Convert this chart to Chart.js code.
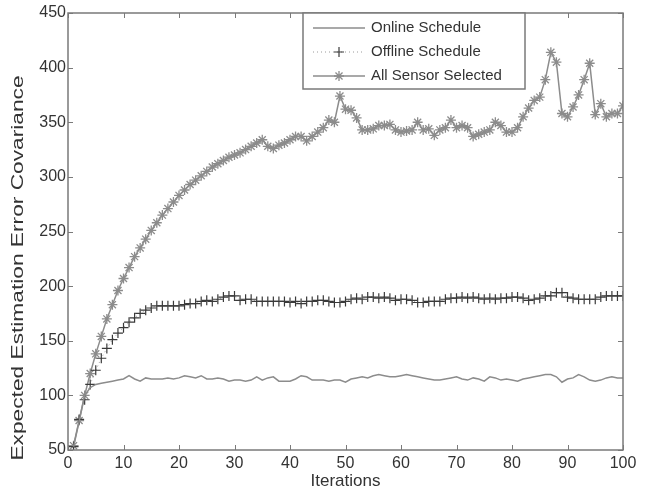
<!DOCTYPE html>
<html>
<head>
<meta charset="utf-8">
<script src="https://cdn.jsdelivr.net/npm/chart.js@4.4.1/dist/chart.umd.min.js"></script>
<style>
  html, body { margin: 0; padding: 0; background: #fff; }
  #wrap { width: 655px; height: 492px; }
</style>
</head>
<body>
<div id="wrap"><canvas id="chart" width="655" height="492"></canvas></div>
<script>
// iterations 1..100
const iterations = [];
for (let i = 1; i <= 100; i++) iterations.push(i);

// online schedule (solid line, no markers)
const onlineValues = [
  53, 76, 100, 107, 110, 111, 112, 113, 114, 115,
  118, 115, 113, 116, 115, 115, 115, 116, 115, 116,
  118, 117, 116, 118, 115, 115, 116, 115, 113, 114,
  114, 113, 114, 117, 114, 116, 117, 113, 113, 113,
  115, 118, 117, 114, 114, 114, 113, 114, 114, 112,
  115, 116, 117, 116, 118, 119, 118, 117, 117, 118,
  119, 118, 117, 116, 115, 114, 114, 115, 116, 117,
  115, 114, 116, 115, 113, 117, 116, 114, 115, 114,
  113, 115, 116, 117, 118, 119, 119, 117, 112, 115,
  116, 119, 117, 114, 113, 114, 116, 117, 116, 116
];

// offline schedule (dotted line, + markers)
const offlineValues = [
  53, 78, 96, 110, 123, 134, 143, 151, 157, 162,
  167, 171, 175, 178, 180, 182, 182, 182, 182, 182,
  183, 184, 184, 186, 187, 186, 188, 190, 191, 191,
  187, 188, 188, 186, 186, 186, 186, 186, 186, 185,
  186, 184, 186, 186, 187, 187, 186, 185, 185, 186,
  188, 189, 188, 190, 190, 189, 190, 189, 187, 188,
  188, 187, 185, 185, 186, 186, 186, 188, 189, 189,
  190, 189, 190, 189, 188, 189, 188, 189, 189, 190,
  190, 189, 187, 188, 189, 191, 191, 194, 194, 190,
  189, 188, 188, 188, 188, 190, 191, 191, 191, 191
];

// all sensor selected (solid line, * markers)
const allSensorValues = [
  54, 77, 100, 120, 138, 154, 170, 183, 196, 207,
  217, 227, 235, 243, 251, 258, 265, 271, 277, 283,
  288, 293, 297, 301, 305, 309, 312, 315, 318, 320,
  322, 325, 328, 331, 334, 328, 326, 329, 331, 334,
  337, 337, 333, 337, 341, 345, 352, 350, 374, 362,
  361, 354, 343, 343, 344, 347, 347, 348, 343, 341,
  342, 343, 350, 343, 344, 338, 343, 345, 352, 345,
  347, 345, 337, 339, 341, 343, 350, 347, 341, 341,
  345, 355, 363, 370, 373, 389, 414, 405, 358, 355,
  364, 375, 389, 404, 357, 367, 355, 358, 358, 365
];

const xTicks = [0, 10, 20, 30, 40, 50, 60, 70, 80, 90, 100];
const yTicks = [50, 100, 150, 200, 250, 300, 350, 400, 450];

const seriesLabels = ["Online Schedule", "Offline Schedule", "All Sensor Selected"];
const yTitle = "Expected Estimation Error Covariance";

const toPoints = (vals) => vals.map((v, i) => ({ x: iterations[i], y: v }));

const axisColor = "#7a7a7a";
const textColor = "#333333";
const fontFamily = "'Liberation Sans', Arial, sans-serif";

// inward ticks on all four sides + box
const boxTicks = {
  id: "boxTicks",
  afterDatasetsDraw(chart) {
    const { ctx, chartArea: a, scales } = chart;
    ctx.save();
    ctx.strokeStyle = axisColor;
    ctx.lineWidth = 1;
    ctx.beginPath();
    xTicks.forEach((t) => {
      const px = Math.round(scales.x.getPixelForValue(t)) + 0.5;
      ctx.moveTo(px, a.bottom);
      ctx.lineTo(px, a.bottom - 5);
      ctx.moveTo(px, a.top);
      ctx.lineTo(px, a.top + 5);
    });
    yTicks.forEach((t) => {
      const py = Math.round(scales.y.getPixelForValue(t)) + 0.5;
      ctx.moveTo(a.left, py);
      ctx.lineTo(a.left + 5, py);
      ctx.moveTo(a.right, py);
      ctx.lineTo(a.right - 5, py);
    });
    ctx.stroke();
    ctx.lineWidth = 1.5;
    ctx.strokeRect(a.left, a.top, a.right - a.left, a.bottom - a.top);
    ctx.restore();
  },
};

// y axis title, stretched along its length like the original figure
const yAxisTitle = {
  id: "yAxisTitle",
  afterDraw(chart) {
    const { ctx } = chart;
    ctx.save();
    ctx.translate(19, 268);
    ctx.rotate(-Math.PI / 2);
    ctx.scale(1.42, 1);
    ctx.fillStyle = textColor;
    ctx.font = "16px " + fontFamily;
    ctx.textAlign = "center";
    ctx.textBaseline = "middle";
    ctx.fillText(yTitle, 0, 0);
    ctx.restore();
  },
};

// legend box inside the plot, top right (matlab style)
const boxLegend = {
  id: "boxLegend",
  afterDraw(chart) {
    const { ctx } = chart;
    const x0 = 303, y0 = 13, w = 222, h = 76;
    ctx.save();
    ctx.fillStyle = "#fff";
    ctx.fillRect(x0, y0, w, h);
    ctx.strokeStyle = axisColor;
    ctx.lineWidth = 1.5;
    ctx.strokeRect(x0, y0, w, h);
    chart.data.datasets.forEach((ds, i) => {
      const cy = y0 + 15 + i * 24;
      ctx.strokeStyle = ds.borderColor;
      ctx.lineWidth = ds.borderWidth;
      ctx.setLineDash(ds.borderDash || []);
      ctx.beginPath();
      ctx.moveTo(x0 + 10, cy);
      ctx.lineTo(x0 + 62, cy);
      ctx.stroke();
      ctx.setLineDash([]);
      if (ds.pointStyle && ds.pointRadius > 0) {
        ctx.strokeStyle = ds.pointBorderColor;
        ctx.fillStyle = ds.pointBackgroundColor;
        ctx.lineWidth = ds.pointBorderWidth;
        Chart.helpers.drawPoint(ctx, {
          pointStyle: ds.pointStyle,
          radius: ds.pointRadius,
          borderWidth: ds.pointBorderWidth,
          rotation: 0,
        }, x0 + 36, cy);
      }
      ctx.fillStyle = textColor;
      ctx.font = "15px " + fontFamily;
      ctx.textBaseline = "middle";
      ctx.textAlign = "left";
      ctx.fillText(ds.label, x0 + 68, cy);
    });
    ctx.restore();
  },
};

const chart = new Chart(document.getElementById("chart"), {
  type: "line",
  data: {
    datasets: [
      {
        label: seriesLabels[0],
        data: toPoints(onlineValues),
        borderColor: "#8c8c8c",
        borderWidth: 1.5,
        pointRadius: 0,
        tension: 0,
      },
      {
        label: seriesLabels[1],
        data: toPoints(offlineValues),
        borderColor: "#9a9a9a",
        borderWidth: 1,
        borderDash: [1, 3],
        pointStyle: "cross",
        pointRadius: 5,
        pointBorderWidth: 1.2,
        pointBorderColor: "#3a3a3a",
        pointBackgroundColor: "#3a3a3a",
        tension: 0,
      },
      {
        label: seriesLabels[2],
        data: toPoints(allSensorValues),
        borderColor: "#8c8c8c",
        borderWidth: 1.5,
        pointStyle: "star",
        pointRadius: 5,
        pointBorderWidth: 1.3,
        pointBorderColor: "#8c8c8c",
        pointBackgroundColor: "#8c8c8c",
        tension: 0,
      },
    ],
  },
  options: {
    responsive: false,
    animation: false,
    events: [],
    layout: { padding: { top: 13, right: 32, left: 0, bottom: 0 } },
    plugins: {
      legend: { display: false },
      tooltip: { enabled: false },
      title: { display: false },
    },
    scales: {
      x: {
        type: "linear",
        min: 0,
        max: 100,
        afterBuildTicks: (s) => { s.ticks = xTicks.map((v) => ({ value: v })); },
        afterFit: (s) => { s.height = 42; },
        grid: { display: false, drawTicks: false },
        border: { display: false },
        ticks: { color: textColor, font: { family: fontFamily, size: 16 }, padding: 4, maxRotation: 0 },
        title: {
          display: true,
          text: "Iterations",
          color: textColor,
          font: { family: fontFamily, size: 17 },
          padding: { top: 0, bottom: 0 },
        },
      },
      y: {
        min: 50,
        max: 450,
        afterBuildTicks: (s) => { s.ticks = yTicks.map((v) => ({ value: v })); },
        afterFit: (s) => { s.width = 68; },
        grid: { display: false, drawTicks: false },
        border: { display: false },
        ticks: { color: textColor, font: { family: fontFamily, size: 16 }, padding: 2 },
        title: { display: false },
      },
    },
  },
  plugins: [boxTicks, boxLegend, yAxisTitle],
});
</script>
</body>
</html>
